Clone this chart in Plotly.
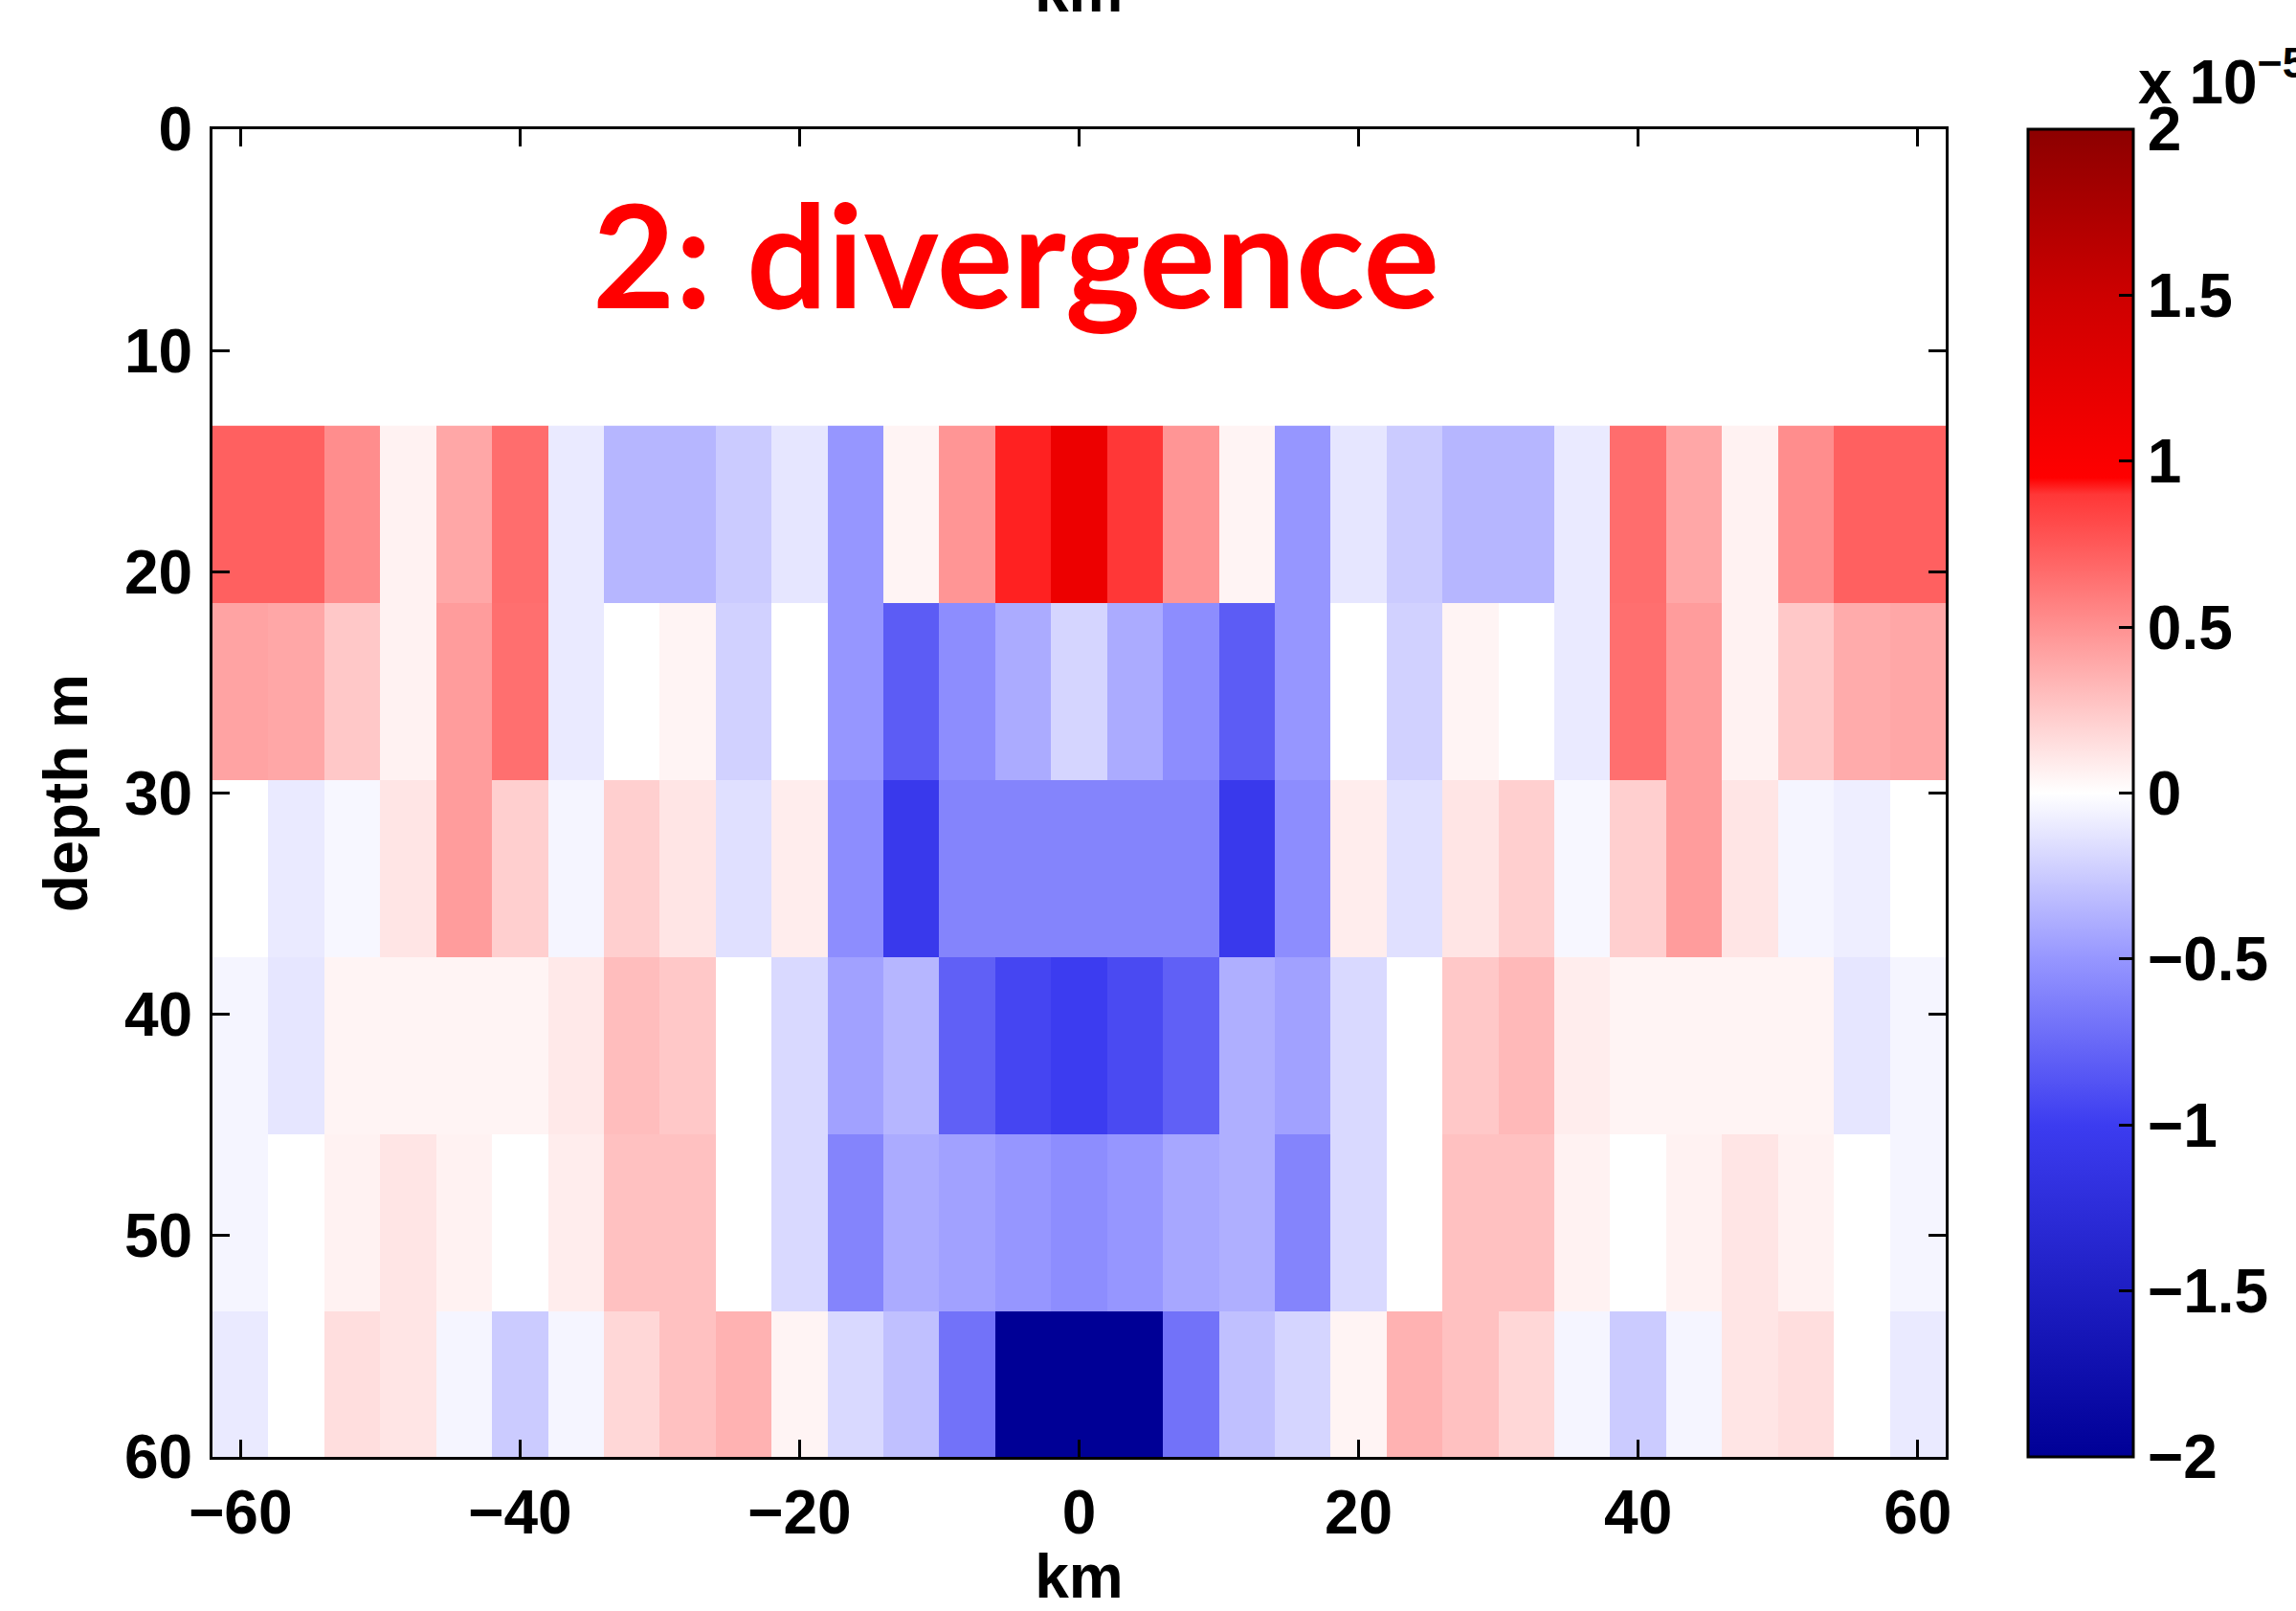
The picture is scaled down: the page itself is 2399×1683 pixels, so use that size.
import plotly.graph_objects as go

# ---- data (divergence, units of 1e-5 s^-1) ----
x_km = [-60, -56, -52, -48, -44, -40, -36, -32, -28, -24, -20, -16, -12, -8, -4, 0,
        4, 8, 12, 16, 20, 24, 28, 32, 36, 40, 44, 48, 52, 56, 60]
depth_m = [17.4, 25.4, 33.4, 41.4, 49.4, 57.4]

row_17 = [0.72, 0.72, 0.52, 0.06, 0.40, 0.66, -0.10, -0.35, -0.35, -0.25, -0.12, -0.50, 0.05, 0.48, 0.92, 1.15,
          0.90, 0.48, 0.05, -0.50, -0.12, -0.25, -0.35, -0.35, -0.10, 0.66, 0.40, 0.06, 0.52, 0.72, 0.72]
row_25 = [0.42, 0.40, 0.25, 0.06, 0.45, 0.65, -0.10, 0.00, 0.05, -0.22, 0.00, -0.50, -0.82, -0.55, -0.40, -0.20,
          -0.40, -0.55, -0.82, -0.50, 0.00, -0.22, 0.05, 0.00, -0.10, 0.65, 0.45, 0.06, 0.25, 0.38, 0.40]
row_33 = [0.00, -0.10, -0.04, 0.12, 0.45, 0.22, -0.05, 0.22, 0.12, -0.15, 0.08, -0.55, -1.05, -0.60, -0.60, -0.60,
          -0.60, -0.60, -1.05, -0.55, 0.08, -0.15, 0.12, 0.22, -0.04, 0.22, 0.45, 0.12, -0.05, -0.08, 0.00]
row_41 = [-0.05, -0.12, 0.05, 0.05, 0.05, 0.05, 0.10, 0.30, 0.25, 0.00, -0.18, -0.45, -0.35, -0.80, -0.95, -1.00,
          -0.92, -0.80, -0.38, -0.45, -0.18, 0.00, 0.25, 0.32, 0.08, 0.05, 0.05, 0.05, 0.05, -0.12, -0.05]
row_49 = [-0.05, 0.00, 0.06, 0.12, 0.06, 0.00, 0.08, 0.28, 0.28, 0.00, -0.18, -0.60, -0.40, -0.45, -0.50, -0.55,
          -0.50, -0.42, -0.38, -0.60, -0.18, 0.00, 0.28, 0.28, 0.06, 0.00, 0.06, 0.12, 0.06, 0.00, -0.05]
row_57 = [-0.10, 0.00, 0.15, 0.12, -0.05, -0.25, -0.05, 0.18, 0.28, 0.35, 0.05, -0.18, -0.30, -0.70, -2.00, -2.00,
          -2.00, -0.70, -0.30, -0.20, 0.05, 0.35, 0.28, 0.18, -0.05, -0.25, -0.05, 0.12, 0.15, 0.00, -0.10]

x_ticks = [-60, -40, -20, 0, 20, 40, 60]
y_ticks = [0, 10, 20, 30, 40, 50, 60]
cb_ticks = [-2, -1.5, -1, -0.5, 0, 0.5, 1, 1.5, 2]
cb_ticktext = ["−2", "−1.5", "−1", "−0.5", "0", "0.5", "1", "1.5", "2"]

z = [row_17, row_25, row_33, row_41, row_49, row_57]

# ---- colours ----
colorscale = [
    [0.000, "rgb(0,0,150)"],
    [0.125, "rgb(30,30,195)"],
    [0.250, "rgb(60,60,240)"],
    [0.375, "rgb(150,150,255)"],
    [0.500, "rgb(255,255,255)"],
    [0.625, "rgb(255,145,145)"],
    [0.725, "rgb(255,55,55)"],
    [0.7375, "rgb(255,0,0)"],
    [0.875, "rgb(205,0,0)"],
    [1.000, "rgb(140,0,0)"],
]

FONT = "Liberation Sans, Arial, sans-serif"
FS = 64

W, H = 2399, 1683
L, R, T, B = 222, 366, 135, 161
plot_w = W - L - R
plot_h = H - T - B

fig = go.Figure()
fig.add_trace(go.Heatmap(
    x=x_km, y=depth_m, z=z,
    zmin=-2, zmax=2,
    colorscale=colorscale,
    colorbar=dict(
        x=(2119 - L) / plot_w, xanchor="left",
        y=1, yanchor="top",
        len=1, lenmode="fraction",
        thickness=110, thicknessmode="pixels",
        outlinewidth=3, outlinecolor="black",
        tickmode="array", tickvals=cb_ticks, ticktext=cb_ticktext,
        ticks="inside", ticklen=16, tickwidth=3, tickcolor="black",
        tickfont=dict(family=FONT, size=FS, color="black", weight="bold"),
        ticklabelposition="outside",
        xpad=0, ypad=0,
    ),
))

axis_common = dict(
    showline=True, linecolor="black", linewidth=3, mirror="ticks",
    ticks="inside", ticklen=18, tickwidth=3, tickcolor="black",
    showgrid=False, zeroline=False,
    tickfont=dict(family=FONT, size=FS, color="black", weight="bold"),
)

fig.update_xaxes(
    range=[-62, 62], tickmode="array", tickvals=x_ticks,
    title=dict(text="km", font=dict(family=FONT, size=FS, color="black", weight="bold"), standoff=26),
    ticklabelstandoff=0,
    **axis_common,
)
fig.update_yaxes(
    range=[60, 0], tickmode="array", tickvals=y_ticks,
    title=dict(text="depth m", font=dict(family=FONT, size=FS, color="black", weight="bold"), standoff=18),
    ticklabelstandoff=5,
    **axis_common,
)

fig.add_annotation(
    x=-4.5, y=5.6, xref="x", yref="y",
    text="<b>2: divergence</b>", showarrow=False,
    font=dict(family="Lato, Open Sans, sans-serif", size=149, color="rgb(255,0,0)"),
    xanchor="center", yanchor="middle",
)
fig.add_annotation(
    x=(2232 - L) / plot_w, y=1 + (T - 81) / plot_h, xref="paper", yref="paper",
    text="<b>x 10<sup>−5</sup></b>", showarrow=False,
    font=dict(family=FONT, size=FS, color="black"),
    xanchor="left", yanchor="middle",
)
fig.add_annotation(
    x=0.5, y=1 + (T + 10) / plot_h, xref="paper", yref="paper",
    text="<b>km</b>", showarrow=False,
    font=dict(family=FONT, size=FS, color="black"),
    xanchor="center", yanchor="middle",
)

fig.update_layout(
    width=W, height=H,
    margin=dict(l=L, r=R, t=T, b=B, autoexpand=False),
    paper_bgcolor="white", plot_bgcolor="white",
    showlegend=False,
)

fig.write_html("out.html")
